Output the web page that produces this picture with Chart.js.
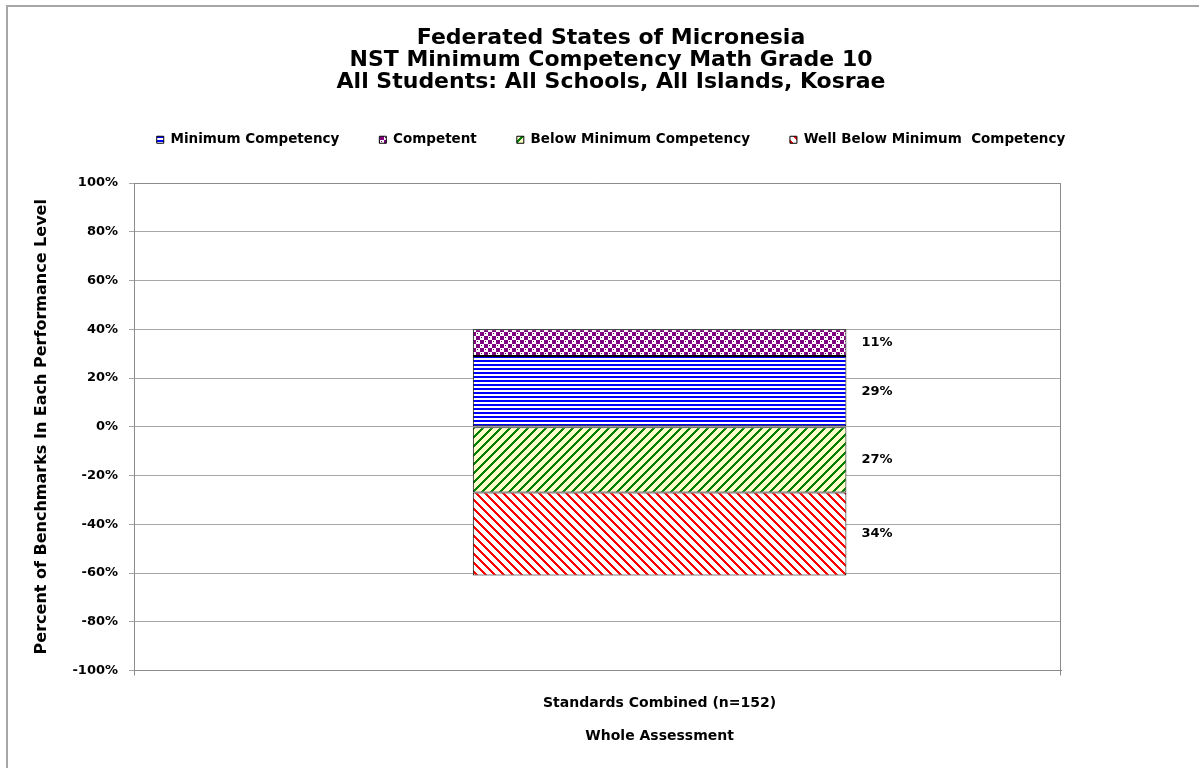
<!DOCTYPE html>
<html>
<head>
<meta charset="utf-8">
<script src="https://cdn.jsdelivr.net/npm/chart.js@4.4.1/dist/chart.umd.min.js"></script>
<style>
    html, body { margin: 0; padding: 0; background: #fff; overflow: hidden; }
    #moldura { position: absolute; left: 6px; top: 5px; width: 1300px; height: 900px;
               border: 2px solid #a6a6a6; box-sizing: border-box; }
    #area { position: absolute; left: 0; top: 0; width: 1199px; height: 768px; }
    canvas { display: block; }
</style>
</head>
<body>
<div id="moldura"></div>
<div id="area"><canvas id="grafico" width="1199" height="768"></canvas></div>
<script>
// ── Dados ──
const categorias   = ["Standards Combined (n=152)"];
const nomesSeries  = ["Minimum Competency", "Competent", "Below Minimum Competency", "Well Below Minimum  Competency"];
const minimo       = [29];
const competente   = [11];
const abaixo       = [-27];
const muitoAbaixo  = [-34];
const titulo       = ["Federated States of Micronesia",
                      "NST Minimum Competency Math Grade 10",
                      "All Students: All Schools, All Islands, Kosrae"];
const tituloY      = "Percent of Benchmarks In Each Performance Level";
const tituloX      = "Whole Assessment";

// no Excel original a categoria não fica no meio do eixo
const centroCategoria = 0.567;

const FONTE = "'DejaVu Sans', Verdana, sans-serif";
const canvas = document.getElementById("grafico");
const ctx = canvas.getContext("2d");

// ── Padrões de preenchimento ──
function criarPadrao(w, h, desenhar) {
    const c = document.createElement("canvas");
    c.width = w; c.height = h;
    desenhar(c.getContext("2d"), w, h);
    return ctx.createPattern(c, "repeat");
}

function pixels(fundo, cor, teste) {
    return (g, w, h) => {
        g.fillStyle = fundo;
        g.fillRect(0, 0, w, h);
        g.fillStyle = cor;
        for (let y = 0; y < h; y++)
            for (let x = 0; x < w; x++)
                if (teste(x, y)) g.fillRect(x, y, 1, 1);
    };
}

const padraoAzul = criarPadrao(4, 4, (g) => {
    g.fillStyle = "#fff"; g.fillRect(0, 0, 4, 4);
    g.fillStyle = "#0000ff"; g.fillRect(0, 0, 4, 2);
});

const padraoRoxo = criarPadrao(8, 8, (g) => {
    g.fillStyle = "#800080"; g.fillRect(0, 0, 8, 8);
    g.fillStyle = "#fff";
    g.fillRect(0, 0, 4, 4);
    g.fillRect(4, 4, 4, 4);
    g.fillStyle = "#800080";
    g.fillRect(1, 1, 1, 1);
    g.fillRect(5, 5, 1, 1);
});

const padraoVerde    = criarPadrao(9, 9, pixels("#ffffcc", "#008000", (x, y) => (x + y) % 9 < 3));
const padraoVermelho = criarPadrao(9, 9, pixels("#ffffff", "#ff0000", (x, y) => ((x - y) % 9 + 9) % 9 < 3));

// ── Plugins ──
const legendaAltura = {
    id: "legendaAltura",
    beforeInit(chart) {
        const fitOriginal = chart.legend.fit;
        chart.legend.fit = function () {
            fitOriginal.bind(chart.legend)();
            this.height = 90;
        };
    }
};

// desloca o centro da categoria como no original
const deslocaCategoria = {
    id: "deslocaCategoria",
    afterLayout(chart) {
        chart.scales.x._startValue = -centroCategoria;
    }
};

const bordaArea = {
    id: "bordaArea",
    afterDraw(chart) {
        const { left, top, right, bottom } = chart.chartArea;
        const c = chart.ctx;
        c.save();
        c.strokeStyle = "#8c8c8c";
        c.lineWidth = 1;
        c.beginPath();
        c.moveTo(left, top + 0.5);
        c.lineTo(right - 0.5, top + 0.5);
        c.lineTo(right - 0.5, bottom + 5);
        c.moveTo(left + 0.5, bottom);
        c.lineTo(left + 0.5, bottom + 5);
        c.stroke();
        c.restore();
    }
};

const rotulos = {
    id: "rotulos",
    afterDatasetsDraw(chart) {
        const c = chart.ctx;
        c.save();
        c.font = "bold 13px " + FONTE;
        c.fillStyle = "#000";
        c.textAlign = "left";
        c.textBaseline = "middle";
        chart.data.datasets.forEach((ds, i) => {
            chart.getDatasetMeta(i).data.forEach((el, j) => {
                const v = ds.data[j];
                c.fillText(Math.abs(v) + "%", el.x + el.width / 2 + 15, (el.y + el.base) / 2);
            });
        });
        c.restore();
    }
};

// ── Gráfico ──
new Chart(canvas, {
    type: "bar",
    data: {
        labels: categorias,
        datasets: [
            { label: nomesSeries[0], data: minimo,      backgroundColor: padraoAzul },
            { label: nomesSeries[1], data: competente,  backgroundColor: padraoRoxo },
            { label: nomesSeries[2], data: abaixo,      backgroundColor: padraoVerde },
            { label: nomesSeries[3], data: muitoAbaixo, backgroundColor: padraoVermelho },
        ].map(d => Object.assign(d, {
            borderColor: "#000",
            borderWidth: 1,
            borderSkipped: false,
            categoryPercentage: 1,
            barPercentage: 0.403,
        }))
    },
    options: {
        responsive: false,
        animation: false,
        layout: { padding: { left: 23, right: 0, top: 0, bottom: 6 } },
        plugins: {
            title: {
                display: true,
                text: titulo,
                color: "#000",
                font: { family: FONTE, size: 22, weight: "bold", lineHeight: 1 },
                padding: { top: 27, bottom: 0 },
            },
            legend: {
                display: true,
                labels: {
                    color: "#000",
                    font: { family: FONTE, size: 13.5, weight: "bold" },
                    boxWidth: 7,
                    boxHeight: 7,
                    padding: 40,
                },
            },
            tooltip: { enabled: false },
        },
        scales: {
            x: {
                stacked: true,
                grid: { display: false },
                border: { color: "#8c8c8c" },
                ticks: {
                    color: "#000",
                    padding: 17,
                    maxRotation: 0,
                    font: { family: FONTE, size: 14, weight: "bold", lineHeight: 16.5 / 14 },
                    callback: (v, i) => [categorias[i], "", tituloX],
                },
            },
            y: {
                stacked: true,
                min: -100,
                max: 100,
                afterFit(escala) { escala.width = 111; },
                grid: { color: "#a6a6a6", tickLength: 5 },
                border: { color: "#8c8c8c" },
                ticks: {
                    stepSize: 20,
                    padding: 11,
                    color: "#000",
                    font: { family: FONTE, size: 13, weight: "bold" },
                    callback: v => v + "%",
                },
                title: {
                    display: true,
                    text: tituloY,
                    color: "#000",
                    font: { family: FONTE, size: 16, weight: "bold" },
                    padding: { top: 9, bottom: 0 },
                },
            },
            y2: {
                position: "right",
                display: true,
                afterFit(escala) { escala.width = 138; },
                grid: { display: false },
                border: { display: false },
                ticks: { display: false },
            },
        },
    },
    plugins: [legendaAltura, deslocaCategoria, bordaArea, rotulos],
});
</script>
</body>
</html>
